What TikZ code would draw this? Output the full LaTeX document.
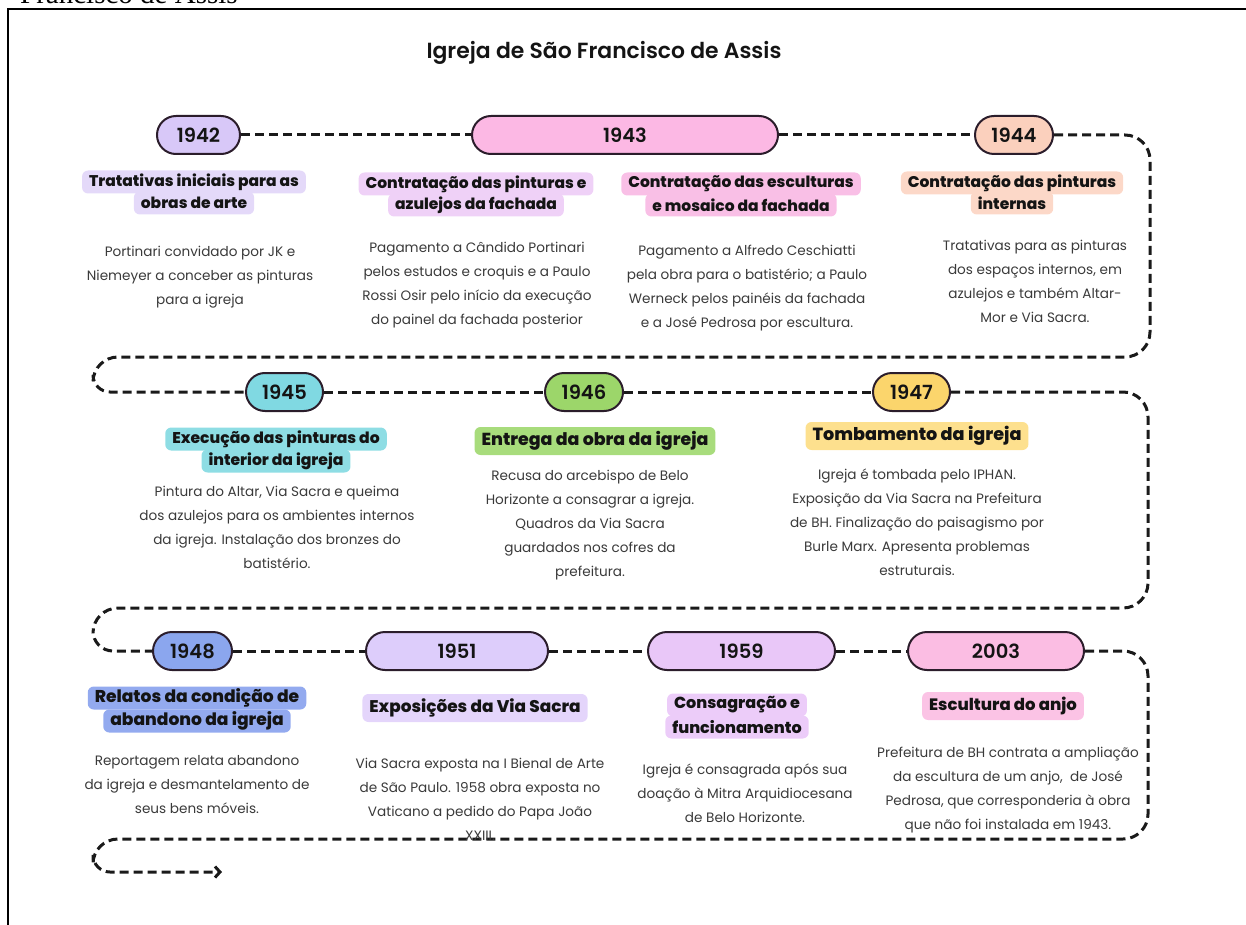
\documentclass[tikz,border=0pt]{standalone}
\usepackage{fontspec}
\setmainfont{Poppins}
\newfontfamily\bodyf{Poppins}
\newfontfamily\semif{Poppins SemiBold}
\newfontfamily\xbf{Poppins ExtraBold}
\newfontfamily\serf{Liberation Serif}
\usetikzlibrary{arrows.meta}
\definecolor{linec}{HTML}{1A1A1A}
\definecolor{pillc}{HTML}{2B1D2B}
\definecolor{headc}{HTML}{141414}
\definecolor{bodyc}{HTML}{3A3A3A}
\definecolor{cA}{HTML}{D8C8F8}\definecolor{hA}{HTML}{E4D9F9}
\definecolor{cB}{HTML}{FCB8E4}\definecolor{hB}{HTML}{EFD1F7}\definecolor{hC}{HTML}{F9BFE6}
\definecolor{cD}{HTML}{FBD0BD}\definecolor{hD}{HTML}{FCD8C8}
\definecolor{cE}{HTML}{80D9E2}\definecolor{hE}{HTML}{8EDDE4}
\definecolor{cF}{HTML}{9CD66A}\definecolor{hF}{HTML}{A8DC7C}
\definecolor{cG}{HTML}{FBD56C}\definecolor{hG}{HTML}{FDE08E}
\definecolor{cH}{HTML}{8BA6EE}\definecolor{hH}{HTML}{93AAEF}
\definecolor{cI}{HTML}{DDCDFB}\definecolor{hI}{HTML}{E4D5FB}
\definecolor{cJ}{HTML}{E9C7F8}\definecolor{hJ}{HTML}{ECCCF9}
\definecolor{cK}{HTML}{FBBDE3}\definecolor{hK}{HTML}{FBC3E5}
\tikzset{
  tl/.style={line width=3pt, dash pattern=on 9pt off 5pt, draw=linec},
  pill/.style={draw=pillc, line width=2pt, rounded corners=19pt, minimum height=38pt,
    inner sep=0pt, font=\semif\fontsize{19.5}{22}\selectfont, text=headc},
  headbox/.style={rounded corners=6pt, inner xsep=7pt, inner ysep=0pt, minimum height=23pt,
    text=headc, font=\xbf\fontsize{15.5}{18}\selectfont},
  hsize/.style={font=\xbf\fontsize{#1}{20}\selectfont},
  single/.style={minimum height=28pt},
  bodytext/.style={align=center, text=bodyc, inner sep=0pt, font=\bodyf\fontsize{13.6}{24}\selectfont},
}
\begin{document}
\begin{tikzpicture}[x=1pt,y=-1pt]
\useasboundingbox (0,0) rectangle (1246,925);
% page frame and cut heading
\node[anchor=base west, inner sep=0pt, font=\serf\fontsize{29}{29}\selectfont] (cut) at (20,4) {Francisco de Assis};
\draw[line width=1.3pt] (8,925) -- (8,9) -- (1246,9);
% title
\node[font=\semif\fontsize{21.9}{24}\selectfont, text=headc] (title) at (604,53) {Igreja de São Francisco de Assis};
% year pills
\node[pill, fill=cA, minimum width=83pt] (p1942) at (198.5,135) {1942};
\node[pill, fill=cB, minimum width=306pt] (p1943) at (625,135) {1943};
\node[pill, fill=cD, minimum width=78pt] (p1944) at (1014,135) {1944};
\node[pill, fill=cE, minimum width=77pt] (p1945) at (284.5,392) {1945};
\node[pill, fill=cF, minimum width=78pt] (p1946) at (584,392) {1946};
\node[pill, fill=cG, minimum width=77pt] (p1947) at (911.5,392) {1947};
\node[pill, fill=cH, minimum width=79pt] (p1948) at (192.5,651) {1948};
\node[pill, fill=cI, minimum width=182pt] (p1951) at (457,651) {1951};
\node[pill, fill=cJ, minimum width=187pt] (p1959) at (741.5,651) {1959};
\node[pill, fill=cK, minimum width=176pt] (p2003) at (996,651) {2003};
% loop coordinates
\coordinate (r1t) at (1150,135); \coordinate (r1b) at (1150,357);
\coordinate (l1t) at (93,357);   \coordinate (l1b) at (93,392);
\coordinate (r2t) at (1148,392); \coordinate (r2b) at (1148,608);
\coordinate (l2t) at (93,608);   \coordinate (l2b) at (93,651);
\coordinate (r3t) at (1148,651); \coordinate (r3b) at (1148,839);
\coordinate (l3t) at (93,839);   \coordinate (l3b) at (93,872);
\coordinate (endp) at (222,872);
% timeline
\draw[tl] (p1942.east) -- (p1943.west);
\draw[tl] (p1943.east) -- (p1944.west);
\draw[tl, rounded corners=25pt] (p1944.east) -- (r1t) -- (r1b) -- (l1t) [rounded corners=17pt] -- (l1b) -- (p1945.west);
\draw[tl] (p1945.east) -- (p1946.west);
\draw[tl] (p1946.east) -- (p1947.west);
\draw[tl, rounded corners=25pt] (p1947.east) -- (r2t) -- (r2b) -- (l2t) [rounded corners=20pt] -- (l2b) -- (p1948.west);
\draw[tl] (p1948.east) -- (p1951.west);
\draw[tl] (p1951.east) -- (p1959.west);
\draw[tl] (p1959.east) -- (p2003.west);
\draw[tl, rounded corners=25pt, -{Straight Barb[length=5pt,width=11pt,line width=3pt]}] (p2003.east) -- (r3t) -- (r3b) -- (l3t) [rounded corners=17pt] -- (l3b) -- (endp);
% headings row 1
\node[headbox, fill=hA] (h1b) at (194,203) {obras de arte};
\node[headbox, fill=hA] (h1a) at (194,182) {Tratativas iniciais para as};
\node[headbox, fill=hB] (h2b) at (476,205) {azulejos da fachada};
\node[headbox, fill=hB] (h2a) at (476,184) {Contratação das pinturas e};
\node[headbox, fill=hC] (h3b) at (741,205) {e mosaico da fachada};
\node[headbox, fill=hC] (h3a) at (741,184) {Contratação das esculturas};
\node[headbox, fill=hD] (h4b) at (1012,203) {internas};
\node[headbox, fill=hD] (h4a) at (1012,183) {Contratação das pinturas};
% headings row 2
\node[headbox, hsize=15.6, fill=hE] (h5b) at (276,461) {interior da igreja};
\node[headbox, hsize=15.6, fill=hE] (h5a) at (276,439) {Execução das pinturas do};
\node[headbox, single, hsize=17.4, fill=hF] (h6) at (595,441) {Entrega da obra da igreja};
\node[headbox, single, hsize=17.6, fill=hG] (h7) at (917,436) {Tombamento da igreja};
% headings row 3
\node[headbox, hsize=17.1, fill=hH] (h8b) at (197,721) {abandono da igreja};
\node[headbox, hsize=17.1, fill=hH] (h8a) at (197,698) {Relatos da condição de};
\node[headbox, single, hsize=16.9, fill=hI] (h9) at (475,708) {Exposições da Via Sacra};
\node[headbox, hsize=16, fill=hJ] (h10b) at (737,727) {funcionamento};
\node[headbox, hsize=16, fill=hJ] (h10a) at (737,705) {Consagração e};
\node[headbox, single, hsize=16.5, fill=hK] (h11) at (1003,706) {Escultura do anjo};
% body texts
\node[bodytext] (b1) at (200,277) {Portinari convidado por JK e\\Niemeyer a conceber as pinturas\\para a igreja};
\node[bodytext] (b2) at (477,285) {Pagamento a Cândido Portinari\\pelos estudos e croquis e a Paulo\\Rossi Osir pelo início da execução\\do painel da fachada posterior};
\node[bodytext] (b3) at (747,288) {Pagamento a Alfredo Ceschiatti\\pela obra para o batistério; a Paulo\\Werneck pelos painéis da fachada\\e a José Pedrosa por escultura.};
\node[bodytext] (b4) at (1035,281) {Tratativas para as pinturas\\dos espaços internos, em\\azulejos e também Altar-\\Mor e Via Sacra.};
\node[bodytext] (b5) at (277,527) {Pintura do Altar, Via Sacra e queima\\dos azulejos para os ambientes internos\\da igreja. Instalação dos bronzes do\\batistério.};
\node[bodytext] (b6) at (590,525) {Recusa do arcebispo de Belo\\Horizonte a consagrar a igreja.\\Quadros da Via Sacra\\guardados nos cofres da\\prefeitura.};
\node[bodytext] (b7) at (917,522) {Igreja é tombada pelo IPHAN.\\Exposição da Via Sacra na Prefeitura\\de BH. Finalização do paisagismo por\\Burle Marx. Apresenta problemas\\estruturais.};
\node[bodytext] (b8) at (197,785) {Reportagem relata abandono\\da igreja e desmantelamento de\\seus bens móveis.};
\node[bodytext] (b9) at (480,799) {Via Sacra exposta na I Bienal de Arte\\de São Paulo. 1958 obra exposta no\\Vaticano a pedido do Papa João\\XXIII.};
\node[bodytext] (b10) at (745,793) {Igreja é consagrada após sua\\doação à Mitra Arquidiocesana\\de Belo Horizonte.};
\node[bodytext] (b11) at (1008,790) {Prefeitura de BH contrata a ampliação\\da escultura de um anjo,\ \ de José\\Pedrosa, que corresponderia à obra\\que não foi instalada em 1943.};
\end{tikzpicture}
\end{document}
